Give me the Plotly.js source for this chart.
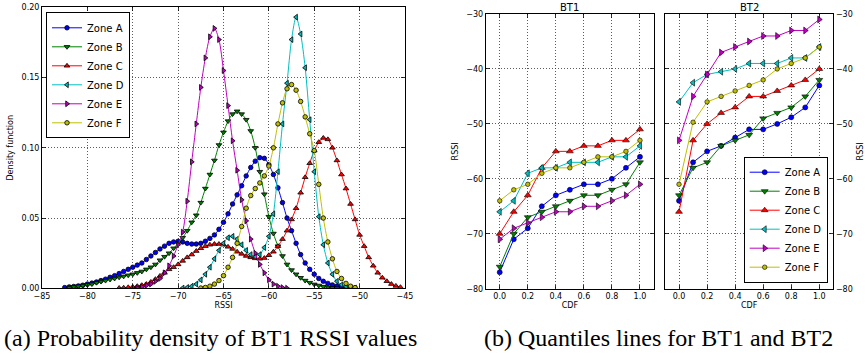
<!DOCTYPE html>
<html>
<head>
<meta charset="utf-8">
<script src="https://cdn.plot.ly/plotly-3.0.1.min.js"></script>
<style>html,body{margin:0;padding:0;background:#fff;}#chart{width:865px;height:354px;}</style>
</head>
<body>
<div id="chart"></div>
<script>
// ---------- Data ----------
const zoneNames = ["Zone A", "Zone B", "Zone C", "Zone D", "Zone E", "Zone F"];

// RSSI grid for the density curves (a)
const rssiGrid = [-83,-82.5,-82,-81.5,-81,-80.5,-80,-79.5,-79,-78.5,-78,-77.5,-77,-76.5,-76,-75.5,-75,-74.5,-74,-73.5,-73,-72.5,-72,-71.5,-71,-70.5,-70,-69.5,-69,-68.5,-68,-67.5,-67,-66.5,-66,-65.5,-65,-64.5,-64,-63.5,-63,-62.5,-62,-61.5,-61,-60.5,-60,-59.5,-59,-58.5,-58,-57.5,-57,-56.5,-56,-55.5,-55,-54.5,-54,-53.5,-53,-52.5,-52,-51.5,-51,-50.5,-50,-49.5,-49,-48.5,-48,-47.5,-47,-46.5,-46,-45.5,-45];

const densityA = [null,0.0005,0.001,0.0013,0.0017,0.0022,0.003,0.0037,0.0045,0.0055,0.0065,0.0078,0.009,0.0105,0.012,0.0135,0.015,0.0165,0.018,0.0205,0.023,0.0255,0.028,0.030,0.032,0.033,0.0335,0.033,0.032,0.0315,0.0315,0.032,0.0335,0.0355,0.038,0.042,0.047,0.053,0.060,0.0665,0.073,0.080,0.086,0.0905,0.093,0.0925,0.088,0.081,0.0715,0.061,0.050,0.041,0.032,0.024,0.018,0.0135,0.010,0.007,0.005,0.0035,0.0024,0.0016,0.001,0.0006,0.0003,0.0001,null,null,null,null,null,null,null,null,null,null,null];
const densityB = [null,null,0.0005,0.001,0.0015,0.002,0.0025,0.003,0.004,0.0048,0.0055,0.0063,0.007,0.0078,0.0085,0.0093,0.010,0.011,0.012,0.0135,0.015,0.017,0.020,0.0225,0.025,0.0285,0.032,0.036,0.041,0.047,0.052,0.061,0.071,0.081,0.091,0.102,0.111,0.119,0.124,0.126,0.124,0.120,0.112,0.100,0.083,0.067,0.051,0.039,0.030,0.023,0.017,0.013,0.010,0.0075,0.0055,0.004,0.0028,0.002,0.0012,0.0007,0.0003,0.0001,null,null,null,null,null,null,null,null,null,null,null,null,null,null,null];
const densityC = [null,null,null,null,null,null,null,null,null,null,null,null,null,0.0002,0.0004,0.0007,0.001,0.0015,0.0022,0.003,0.0045,0.0065,0.0088,0.011,0.0135,0.015,0.017,0.0195,0.022,0.024,0.0265,0.0285,0.030,0.031,0.0315,0.0315,0.031,0.0295,0.028,0.026,0.0245,0.023,0.022,0.0213,0.021,0.0215,0.0235,0.026,0.030,0.035,0.041,0.049,0.057,0.068,0.079,0.089,0.098,0.104,0.107,0.106,0.100,0.091,0.081,0.071,0.060,0.049,0.038,0.030,0.022,0.016,0.011,0.0075,0.005,0.003,0.0017,0.0008,null];
const densityD = [null,null,null,null,null,null,null,null,null,null,null,null,null,null,null,null,null,null,null,null,null,null,null,null,null,null,null,0.0002,0.0006,0.0015,0.003,0.006,0.010,0.015,0.021,0.027,0.032,0.036,0.037,0.035,0.031,0.027,0.024,0.0225,0.024,0.029,0.037,0.053,0.083,0.117,0.146,0.177,0.193,0.181,0.157,0.120,0.083,0.051,0.031,0.018,0.010,0.005,0.0025,0.0012,0.0005,0.0002,null,null,null,null,null,null,null,null,null,null,null];
const densityE = [null,null,null,null,null,null,null,null,null,null,null,null,null,null,null,null,null,0.0003,0.001,0.002,0.003,0.005,0.007,0.011,0.016,0.023,0.031,0.040,0.062,0.090,0.117,0.143,0.164,0.179,0.185,0.177,0.155,0.130,0.105,0.084,0.063,0.048,0.035,0.025,0.017,0.011,0.006,0.003,0.0015,0.0005,0.0001,null,null,null,null,null,null,null,null,null,null,null,null,null,null,null,null,null,null,null,null,null,null,null,null,null,null];
const densityF = [null,null,null,null,null,null,null,null,null,null,null,null,null,null,null,null,null,null,null,null,null,null,null,null,null,null,null,null,null,null,null,0.0002,0.0006,0.0015,0.003,0.0055,0.009,0.015,0.022,0.032,0.044,0.057,0.066,0.071,0.075,0.080,0.087,0.100,0.117,0.132,0.142,0.145,0.141,0.133,0.122,0.110,0.098,0.074,0.050,0.033,0.021,0.012,0.007,0.0035,0.0015,0.0005,null,null,null,null,null,null,null,null,null,null,null];

// Quantile lines (b)
const cdfLevels = [0.0,0.1,0.2,0.3,0.4,0.5,0.6,0.7,0.8,0.9,1.0];
const bt1A = [-77,-71,-69,-65,-63,-62,-61,-61,-60,-58,-56];
const bt1B = [-76,-70,-67,-66,-65,-64,-63,-63,-62,-61,-57];
const bt1C = [-70,-66,-63,-58,-55,-55,-54,-54,-53,-53,-51];
const bt1D = [-66,-64,-59,-58,-58,-57,-57,-57,-56,-56,-54];
const bt1E = [-71,-69,-68,-67,-66,-66,-65,-65,-64,-63,-61];
const bt1F = [-64,-62,-61,-59,-58,-58,-57,-56,-56,-55,-53];
const bt2A = [-64,-57,-55,-54,-52.5,-51,-51,-50,-48.8,-47,-43];
const bt2B = [-63,-58,-57,-54,-53,-52,-49,-48,-47,-45,-42];
const bt2C = [-66,-53,-50,-48,-47,-45,-45,-44,-43,-42,-40];
const bt2D = [-46,-42.5,-41,-40.5,-40,-39,-39,-39,-38,-38,-36];
const bt2E = [-53,-45,-41,-37,-36,-35,-34,-34,-33,-33,-31];
const bt2F = [-61,-49.7,-46,-45,-44,-43,-42,-40,-39,-38,-36];

const densities = [densityA, densityB, densityC, densityD, densityE, densityF];
const bt1 = [bt1A, bt1B, bt1C, bt1D, bt1E, bt1F];
const bt2 = [bt2A, bt2B, bt2C, bt2D, bt2E, bt2F];

// ---------- Styles ----------
const colors = ["#0000ff", "#008000", "#ff0000", "#00bfbf", "#bf00bf", "#bfbf00"];
const symbols = ["circle", "triangle-down", "triangle-up", "triangle-left", "triangle-right", "circle"];
const msize = [5, 6, 6, 6, 6, 4.5];
const dsize = [4.5, 5, 5, 5, 5, 4.5];
const FONT = "DejaVu Sans";
const SERIF = "Liberation Serif";

const traces = [];
for (let i = 0; i < 6; i++) {
  traces.push({
    type: "scatter", mode: "lines+markers", name: zoneNames[i],
    x: rssiGrid, y: densities[i], xaxis: "x", yaxis: "y",
    line: {color: colors[i], width: 1, shape: "spline", smoothing: 0.8},
    marker: {symbol: symbols[i], size: dsize[i], color: colors[i], line: {color: "#000", width: 0.8}},
    legend: "legend", connectgaps: false
  });
}
for (let i = 0; i < 6; i++) {
  traces.push({
    type: "scatter", mode: "lines+markers", name: zoneNames[i],
    x: cdfLevels, y: bt1[i], xaxis: "x2", yaxis: "y2", showlegend: false,
    line: {color: colors[i], width: 1},
    marker: {symbol: symbols[i], size: msize[i], color: colors[i], line: {color: "#000", width: 0.6}}
  });
}
for (let i = 0; i < 6; i++) {
  traces.push({
    type: "scatter", mode: "lines+markers", name: zoneNames[i],
    x: cdfLevels, y: bt2[i], xaxis: "x3", yaxis: "y3", legend: "legend2",
    line: {color: colors[i], width: 1},
    marker: {symbol: symbols[i], size: msize[i], color: colors[i], line: {color: "#000", width: 0.6}}
  });
}

const W = 865, H = 354;
function axisBase(extra) {
  return Object.assign({
    showline: true, mirror: "allticks", linecolor: "#000", linewidth: 1,
    ticks: "inside", ticklen: 4, tickcolor: "#000", tickwidth: 0.8,
    showgrid: true, gridcolor: "#333", gridwidth: 0.8, griddash: "1px,2px",
    zeroline: false, tickfont: {family: FONT, size: 8, color: "#000"},
    automargin: false, fixedrange: true
  }, extra);
}

const layout = {
  width: W, height: H,
  margin: {l: 0, r: 0, t: 0, b: 0},
  paper_bgcolor: "#fff", plot_bgcolor: "#fff",
  font: {family: FONT, color: "#000"},
  xaxis: axisBase({domain: [42/W, 405/W], range: [-85, -45], dtick: 5, tick0: -85,
    anchor: "y", title: {text: "RSSI", font: {family: FONT, size: 8}, standoff: 2}}),
  yaxis: axisBase({domain: [1 - 288.3/H, 1 - 7.3/H], range: [0, 0.2], dtick: 0.05, tickformat: ".2f",
    anchor: "x", title: {text: "Density function", font: {family: FONT, size: 8}, standoff: 6}}),
  xaxis2: axisBase({domain: [485.7/W, 654/W], range: [-0.1, 1.1], dtick: 0.2, tick0: 0, tickformat: ".1f",
    anchor: "y2", title: {text: "CDF", font: {family: FONT, size: 8}, standoff: 2}}),
  yaxis2: axisBase({domain: [1 - 288.7/H, 1 - 14/H], range: [-80, -30], dtick: 10,
    anchor: "x2", title: {text: "RSSI", font: {family: FONT, size: 8}, standoff: 6}}),
  xaxis3: axisBase({domain: [665/W, 833.3/W], range: [-0.1, 1.1], dtick: 0.2, tick0: 0, tickformat: ".1f",
    anchor: "y3", title: {text: "CDF", font: {family: FONT, size: 8}, standoff: 2}}),
  yaxis3: axisBase({domain: [1 - 288.7/H, 1 - 14/H], range: [-80, -30], dtick: 10, side: "right",
    anchor: "x3", title: {text: "RSSI", font: {family: FONT, size: 8}, standoff: 6}}),
  legend: {x: 46/W, y: 1 - 12.3/H, xanchor: "left", yanchor: "top",
    bgcolor: "#fff", bordercolor: "#000", borderwidth: 1,
    font: {family: FONT, size: 10, color: "#000"}, itemwidth: 30, tracegroupgap: 0},
  legend2: {x: 827.7/W, y: 1 - 282.7/H, xanchor: "right", yanchor: "bottom",
    bgcolor: "#fff", bordercolor: "#000", borderwidth: 1,
    font: {family: FONT, size: 10, color: "#000"}, itemwidth: 30, tracegroupgap: 0},
  annotations: [
    {text: "BT1", xref: "x2 domain", yref: "paper", x: 0.5, y: 1 - 7.5/H, showarrow: false,
      xanchor: "center", yanchor: "middle", font: {family: FONT, size: 10, color: "#000"}},
    {text: "BT2", xref: "x3 domain", yref: "paper", x: 0.5, y: 1 - 7.5/H, showarrow: false,
      xanchor: "center", yanchor: "middle", font: {family: FONT, size: 10, color: "#000"}},
    {text: "(a) Probability density of BT1 RSSI values", xref: "paper", yref: "paper",
      x: 210/W, y: 1 - 338/H, showarrow: false, xanchor: "center", yanchor: "middle",
      font: {family: SERIF, size: 24, color: "#000"}},
    {text: "(b) Quantiles lines for BT1 and BT2", xref: "paper", yref: "paper",
      x: 658/W, y: 1 - 338/H, showarrow: false, xanchor: "center", yanchor: "middle",
      font: {family: SERIF, size: 24, color: "#000"}}
  ],
  showlegend: true
};

Plotly.newPlot("chart", traces, layout, {displayModeBar: false, staticPlot: true});
</script>
</body>
</html>
